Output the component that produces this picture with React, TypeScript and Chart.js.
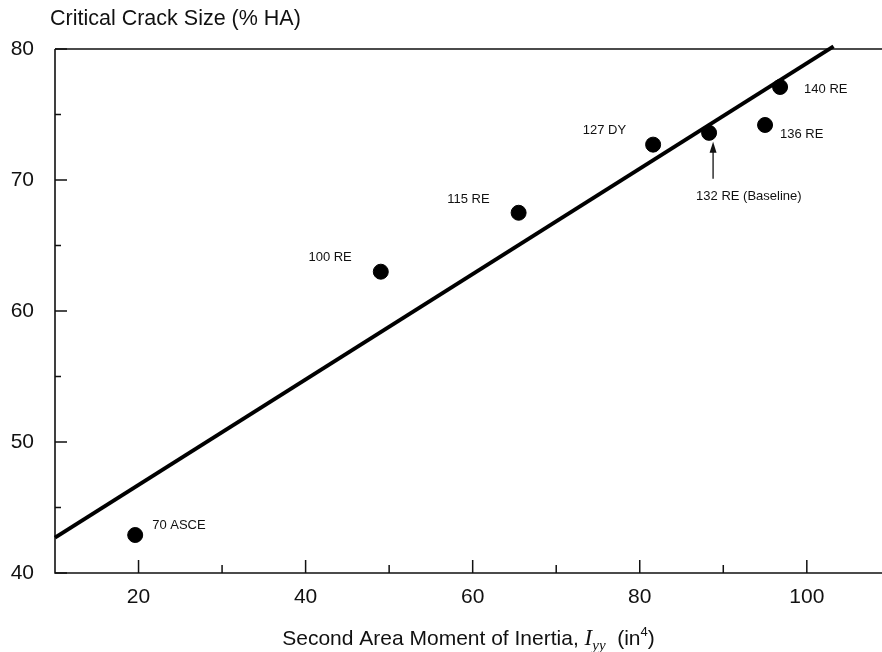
import React, { useEffect, useRef } from 'react';
import { Chart, registerables } from 'chart.js';

Chart.register(...registerables);

const FONT = '"Liberation Sans", Arial, Helvetica, sans-serif';
const SERIF = '"Liberation Serif", "Times New Roman", serif';

// ---- data ----
const sections = ['70 ASCE', '100 RE', '115 RE', '127 DY', '132 RE (Baseline)', '136 RE', '140 RE'];
const inertia = [19.6, 49.0, 65.5, 81.6, 88.3, 95.0, 96.8];
const crackSize = [42.9, 63.0, 67.5, 72.7, 73.6, 74.2, 77.1];
const fitX = [10, 103.2];
const fitY = [42.7, 80.2];
const xTicks = [20, 40, 60, 80, 100];
const xMinorTicks = [30, 50, 70, 90];
const yTicks = [40, 50, 60, 70, 80];
const yMinorTicks = [45, 55, 65, 75];
const yTitle = 'Critical Crack Size (% HA)';

// label placement (style only): offsets from point, alignment, arrow
const labelStyle = [
  { dx: 17, dy: -10, align: 'left' },
  { dx: -29, dy: -14, align: 'right' },
  { dx: -29, dy: -13, align: 'right' },
  { dx: -27, dy: -14, align: 'right' },
  { dx: -13, dy: 64, align: 'left', arrow: true },
  { dx: 15, dy: 9, align: 'left' },
  { dx: 24, dy: 2, align: 'left' },
];

const framePlugin = {
  id: 'frame',
  beforeDatasetsDraw(chart: any) {
    const { ctx, chartArea, scales } = chart;
    const { left, right, top, bottom } = chartArea;
    ctx.save();
    ctx.strokeStyle = '#111';
    ctx.lineWidth = 1.6;
    ctx.beginPath();
    ctx.moveTo(left, top);
    ctx.lineTo(right, top);
    ctx.moveTo(left, top);
    ctx.lineTo(left, bottom);
    ctx.lineTo(right, bottom);
    ctx.stroke();
    ctx.lineWidth = 1.5;
    ctx.beginPath();
    xTicks.forEach((v) => {
      const x = scales.x.getPixelForValue(v);
      ctx.moveTo(x, bottom);
      ctx.lineTo(x, bottom - 13);
    });
    xMinorTicks.forEach((v) => {
      const x = scales.x.getPixelForValue(v);
      ctx.moveTo(x, bottom);
      ctx.lineTo(x, bottom - 8);
    });
    yTicks.forEach((v) => {
      const y = scales.y.getPixelForValue(v);
      ctx.moveTo(left, y);
      ctx.lineTo(left + 12, y);
    });
    yMinorTicks.forEach((v) => {
      const y = scales.y.getPixelForValue(v);
      ctx.moveTo(left, y);
      ctx.lineTo(left + 6, y);
    });
    ctx.stroke();
    ctx.restore();
  },
  afterDatasetsDraw(chart: any) {
    const { ctx } = chart;
    const meta = chart.getDatasetMeta(1);
    ctx.save();
    ctx.fillStyle = '#111';
    ctx.strokeStyle = '#111';
    ctx.font = `13px ${FONT}`;
    ctx.textBaseline = 'middle';
    sections.forEach((name, i) => {
      const p = meta.data[i];
      const st: any = labelStyle[i];
      ctx.textAlign = st.align;
      ctx.fillText(name, p.x + st.dx, p.y + st.dy);
      if (st.arrow) {
        const ax = p.x + 4;
        const y0 = p.y + st.dy - 18;
        const y1 = p.y + 9;
        ctx.lineWidth = 1.3;
        ctx.beginPath();
        ctx.moveTo(ax, y0);
        ctx.lineTo(ax, y1 + 6);
        ctx.stroke();
        ctx.beginPath();
        ctx.moveTo(ax, y1);
        ctx.lineTo(ax - 3.5, y1 + 11);
        ctx.lineTo(ax + 3.5, y1 + 11);
        ctx.closePath();
        ctx.fill();
      }
    });
    ctx.restore();
  },
  afterDraw(chart: any) {
    const { ctx, chartArea } = chart;
    ctx.save();
    ctx.fillStyle = '#111';
    ctx.textBaseline = 'alphabetic';
    ctx.textAlign = 'left';
    ctx.font = `21.5px ${FONT}`;
    ctx.fillText(yTitle, 50, 25);

    // x-axis title with italic I_yy and superscript 4
    const parts = [
      { t: 'Second Area Moment of Inertia, ', f: `21px ${FONT}`, dy: 0 },
      { t: 'I', f: `italic 23px ${SERIF}`, dy: 0 },
      { t: 'yy', f: `italic 15px ${SERIF}`, dy: 5 },
      { t: '  (in', f: `21px ${FONT}`, dy: 0 },
      { t: '4', f: `13px ${FONT}`, dy: -9 },
      { t: ')', f: `21px ${FONT}`, dy: 0 },
    ];
    let total = 0;
    parts.forEach((p) => {
      ctx.font = p.f;
      total += ctx.measureText(p.t).width;
    });
    let x = (chartArea.left + chartArea.right) / 2 - total / 2;
    const base = 645;
    parts.forEach((p) => {
      ctx.font = p.f;
      ctx.fillText(p.t, x, base + p.dy);
      x += ctx.measureText(p.t).width;
    });
    ctx.restore();
  },
};

export default function App() {
  const ref = useRef<HTMLCanvasElement>(null);
  useEffect(() => {
    const chart = new Chart(ref.current as HTMLCanvasElement, {
      type: 'scatter',
      data: {
        datasets: [
          {
            type: 'line',
            data: fitX.map((x, i) => ({ x, y: fitY[i] })),
            borderColor: '#000',
            borderWidth: 4,
            pointRadius: 0,
            clip: false,
            order: 2,
          } as any,
          {
            data: inertia.map((x, i) => ({ x, y: crackSize[i] })),
            backgroundColor: '#000',
            borderColor: '#000',
            pointRadius: 7.5,
            pointHoverRadius: 7.5,
            order: 1,
          },
        ],
      },
      options: {
        responsive: false,
        animation: false,
        events: [],
        layout: { autoPadding: false, padding: { top: 49, left: 0, right: 0, bottom: 0 } },
        plugins: {
          legend: { display: false },
          tooltip: { enabled: false },
        },
        scales: {
          x: {
            type: 'linear',
            min: 10,
            max: 109,
            grid: { display: false, drawTicks: false },
            border: { display: false },
            afterBuildTicks: (s: any) => {
              s.ticks = xTicks.map((v) => ({ value: v }));
            },
            afterFit: (s: any) => {
              s.height = 79;
              s.paddingLeft = 0;
              s.paddingRight = 0;
            },
            ticks: { font: { family: FONT, size: 21 }, color: '#111', padding: 12 },
          },
          y: {
            type: 'linear',
            min: 40,
            max: 80,
            grid: { display: false, drawTicks: false },
            border: { display: false },
            afterBuildTicks: (s: any) => {
              s.ticks = yTicks.map((v) => ({ value: v }));
            },
            afterFit: (s: any) => {
              s.width = 55;
            },
            ticks: { font: { family: FONT, size: 21 }, color: '#111', padding: 21 },
          },
        },
      } as any,
      plugins: [framePlugin],
    });
    return () => chart.destroy();
  }, []);
  return (
    <div style={{ position: 'absolute', left: 0, top: 0, width: 882, height: 652, background: '#fff' }}>
      <canvas ref={ref} width={882} height={652} />
    </div>
  );
}
